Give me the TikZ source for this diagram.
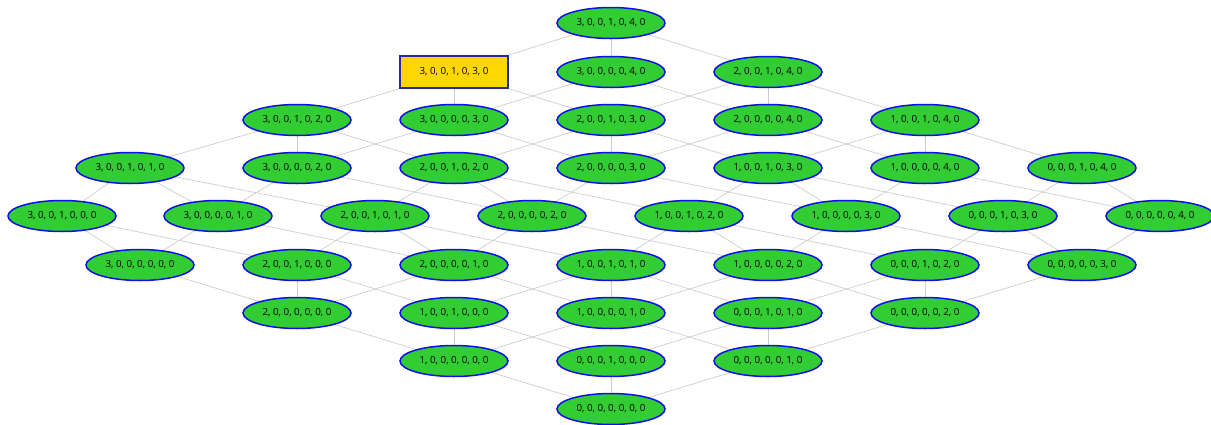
\documentclass[tikz,border=0pt]{standalone}
\usepackage{fontspec}
\setmainfont{Open Sans}
\usetikzlibrary{shapes.geometric,backgrounds}
\definecolor{nodegreen}{RGB}{50,205,50}
\definecolor{nodeblue}{RGB}{15,15,235}
\definecolor{boxblue}{RGB}{40,40,150}
\definecolor{boxgold}{RGB}{255,215,0}
\definecolor{edgegray}{RGB}{205,205,205}
\begin{document}
\begin{tikzpicture}[x=1pt,y=-1pt,
  elem/.style={ellipse, draw=nodeblue, fill=nodegreen, line width=1.5pt,
    minimum width=108pt, minimum height=31pt, inner sep=0pt,
    font=\fontsize{9.8}{11}\selectfont},
  selbox/.style={rectangle, draw=boxblue, fill=boxgold, line width=1.5pt,
    minimum width=108pt, minimum height=32pt, inner sep=0pt,
    font=\fontsize{9.8}{11}\selectfont},
  link/.style={draw=edgegray, line width=0.7pt}]
\useasboundingbox (0,0) rectangle (1211,424);
\node[selbox] (n313) at (454,72) {3, 0, 0, 1, 0, 3, 0};
\foreach \a/\b/\c/\x/\y in {
  3/1/4/611/23,
  3/0/4/611/72, 2/1/4/768/72,
  3/1/2/297/120, 3/0/3/454/120, 2/1/3/611/120, 2/0/4/768/120, 1/1/4/925/120,
  3/1/1/130/168, 3/0/2/297/168, 2/1/2/454/168, 2/0/3/611/168, 1/1/3/768/168, 1/0/4/925/168, 0/1/4/1082/168,
  3/1/0/62/216, 3/0/1/218/216, 2/1/1/375/216, 2/0/2/532/216, 1/1/2/689/216, 1/0/3/846/216, 0/1/3/1003/216, 0/0/4/1160/216,
  3/0/0/140/265, 2/1/0/297/265, 2/0/1/454/265, 1/1/1/611/265, 1/0/2/768/265, 0/1/2/925/265, 0/0/3/1082/265,
  2/0/0/297/313, 1/1/0/454/313, 1/0/1/611/313, 0/1/1/768/313, 0/0/2/925/313,
  1/0/0/454/361, 0/1/0/611/361, 0/0/1/768/361,
  0/0/0/611/409}
  \node[elem] (n\a\b\c) at (\x,\y) {\a, 0, 0, \b, 0, \c, 0};
\begin{scope}[on background layer]
\foreach \a in {0,...,3}
  \foreach \b in {0,1}
    \foreach \c in {0,...,4} {
      \ifnum\a>0 \pgfmathtruncatemacro\p{\a-1}\draw[link] (n\a\b\c) -- (n\p\b\c);\fi
      \ifnum\b>0 \pgfmathtruncatemacro\q{\b-1}\draw[link] (n\a\b\c) -- (n\a\q\c);\fi
      \ifnum\c>0 \pgfmathtruncatemacro\r{\c-1}\draw[link] (n\a\b\c) -- (n\a\b\r);\fi
    }
\end{scope}
\end{tikzpicture}
\end{document}
